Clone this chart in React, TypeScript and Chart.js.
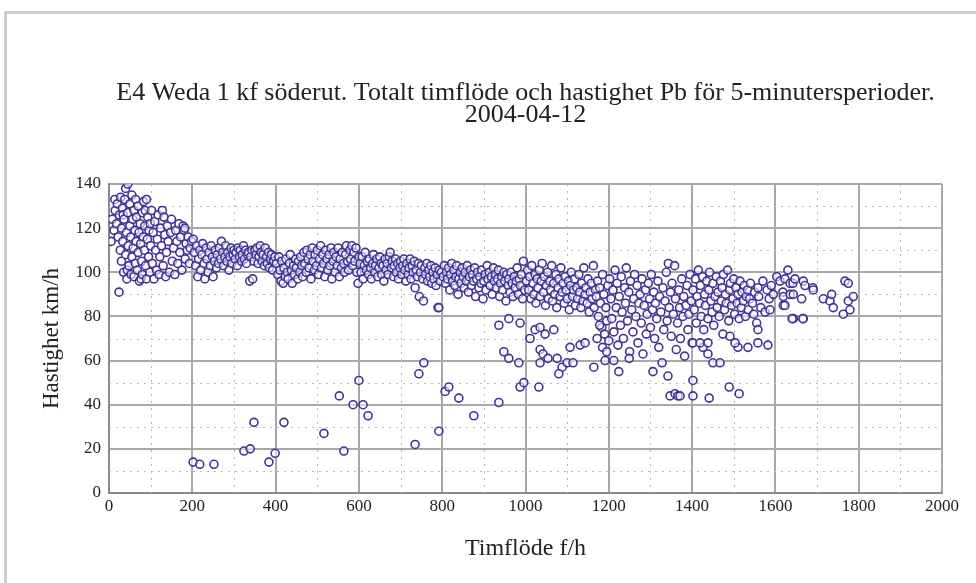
import React, { useEffect, useRef } from "react";
import { Chart, registerables } from "chart.js";

Chart.register(...registerables);

const titleLines = [
  "E4 Weda 1 kf söderut. Totalt timflöde och hastighet Pb för 5-minutersperioder.",
  "2004-04-12",
];
const xAxisTitle = "Timflöde f/h";
const yAxisTitle = "Hastighet km/h";

const xMin = 0;
const xMax = 2000;
const xStep = 200;
const yMin = 0;
const yMax = 140;
const yStep = 20;

// Flow (f/h), speed (km/h) pairs, grouped by flow range
const flow0to100: [number, number][] = [
  [5,114],[8,124],[12,119],[14,133],[15,128],[18,122],[20,131],[22,116],[24,91],[25,126],[27,110],[28,134],
  [30,120],[30,105],[32,129],[33,114],[34,126],[35,100],[36,124],[38,133],[40,138],[40,108],[42,118],[43,97],
  [44,101],[45,140],[45,127],[46,112],[48,103],[50,131],[50,121],[52,116],[53,99],[55,135],[55,107],[57,124],
  [58,111],[60,128],[60,98],[62,119],[63,104],[64,133],[65,114],[66,125],[68,101],[70,130],[70,109],[72,118],
  [73,96],[75,122],[76,113],[77,97],[78,105],[80,127],[80,99],[82,116],[83,132],[85,110],[86,121],[87,128],
  [88,103],[90,133],[90,97],[92,115],[93,125],[95,107],[96,119],[98,100],[99,122],[100,112],
];
const flow100to200: [number, number][] = [
  [102,128],[104,104],[106,118],[108,97],[110,123],[112,110],[114,101],[116,115],[118,126],[120,99],[122,107],
  [124,120],[126,112],[128,128],[130,103],[132,125],[134,117],[136,98],[138,109],[140,121],[142,114],[145,100],
  [148,118],[150,124],[152,105],[155,111],[158,99],[160,119],[163,114],[165,104],[168,122],[170,109],[172,116],
  [175,101],[178,121],[180,119],[182,120],[183,106],[185,113],[188,110],[190,116],[193,104],[195,111],[198,114],
];
const flow200to400: [number, number][] = [
  [202,115],[205,109],[208,103],[210,112],[213,98],[215,106],[218,110],[220,101],[223,108],[225,113],[228,104],
  [230,97],[233,111],[235,106],[238,100],[240,109],[243,103],[245,112],[248,107],[250,98],[253,105],[255,110],
  [258,102],[260,108],[263,104],[265,111],[268,106],[270,114],[273,109],[275,103],[278,107],[280,112],[283,105],
  [285,109],[288,101],[290,107],[293,111],[295,104],[298,108],[300,110],[303,106],[305,109],[308,103],[310,111],
  [313,107],[315,110],[318,105],[320,108],[323,112],[325,106],[328,110],[330,104],[333,108],[335,109],[338,96],
  [340,107],[343,110],[345,97],[348,105],[350,110],[353,108],[355,111],[358,104],[360,107],[363,112],[365,109],
  [368,105],[370,108],[373,103],[375,111],[378,107],[380,104],[383,109],[385,102],[388,106],[390,108],[393,101],
  [395,105],[398,107],
];
const flow400to600: [number, number][] = [
  [402,104],[405,99],[408,107],[410,101],[413,96],[415,105],[418,95],[420,102],[423,98],[425,106],[428,100],
  [430,97],[433,104],[435,108],[438,101],[440,95],[443,103],[445,99],[448,106],[450,102],[453,97],[455,105],
  [458,100],[460,107],[463,103],[465,98],[468,109],[470,104],[473,100],[475,110],[478,106],[480,102],[483,108],
  [485,97],[488,111],[490,105],[493,101],[495,108],[498,103],[500,110],[503,99],[505,106],[508,112],[510,102],
  [513,108],[515,104],[518,98],[520,110],[523,106],[525,101],[528,108],[530,103],[533,111],[535,97],[538,105],
  [540,109],[543,100],[545,107],[548,103],[550,111],[553,98],[555,106],[558,102],[560,109],[563,104],[565,100],
  [568,108],[570,112],[573,105],[575,101],[578,110],[580,106],[583,112],[585,103],[588,109],[590,105],[593,111],
  [595,100],[598,95],[600,107],
];
const flow600to800: [number, number][] = [
  [603,104],[605,100],[608,107],[610,97],[613,103],[615,109],[618,101],[620,105],[623,99],[625,106],[628,102],
  [630,97],[633,104],[635,108],[638,100],[640,103],[643,106],[645,98],[648,102],[650,107],[653,104],[655,99],
  [658,103],[660,96],[663,106],[665,101],[668,104],[670,99],[673,107],[675,109],[678,102],[680,105],[683,98],
  [685,103],[688,106],[690,100],[693,104],[695,97],[698,102],[700,105],[703,99],[705,103],[708,106],[710,101],
  [713,96],[715,104],[718,99],[720,102],[723,106],[725,97],[728,103],[730,100],[733,105],[735,93],[738,101],
  [740,98],[743,104],[745,89],[748,100],[750,103],[753,97],[755,87],[758,102],[760,99],[763,104],[765,96],
  [768,101],[770,98],[773,103],[775,95],[778,100],[780,97],[783,102],[785,94],[788,99],[790,84],[793,101],
  [795,96],[798,100],
];
const flow800to1000: [number, number][] = [
  [802,98],[805,103],[808,95],[810,100],[813,97],[815,102],[818,92],[820,99],[823,104],[825,96],[828,101],
  [830,94],[833,98],[835,103],[838,90],[840,97],[843,100],[845,95],[848,102],[850,98],[853,93],[855,100],
  [858,96],[860,103],[863,91],[865,98],[868,101],[870,94],[873,99],[875,96],[878,102],[880,89],[883,97],
  [885,100],[888,93],[890,98],[893,95],[895,101],[898,88],[900,96],[903,99],[905,92],[908,103],[910,97],
  [913,100],[915,94],[918,98],[920,90],[923,102],[925,96],[928,99],[930,93],[933,97],[935,101],[938,89],
  [940,95],[943,98],[945,92],[948,100],[950,96],[953,87],[955,99],[958,94],[960,97],[963,91],[965,100],
  [968,95],[970,89],[973,98],[975,93],[978,96],[980,102],[983,90],[985,97],[988,94],[990,99],[993,88],
  [995,105],[998,92],
];
const flow1000to1200: [number, number][] = [
  [1002,96],[1005,101],[1008,92],[1010,98],[1013,88],[1015,103],[1018,95],[1020,90],[1023,99],[1025,86],
  [1028,97],[1030,93],[1033,101],[1035,89],[1038,96],[1040,104],[1043,91],[1045,98],[1048,85],[1050,94],
  [1053,100],[1055,88],[1058,96],[1060,92],[1063,103],[1065,87],[1068,95],[1070,90],[1073,99],[1075,84],
  [1078,93],[1080,97],[1083,89],[1085,102],[1088,91],[1090,95],[1093,86],[1095,98],[1098,92],[1100,88],
  [1103,96],[1105,83],[1108,94],[1110,100],[1113,89],[1115,92],[1118,97],[1120,85],[1123,93],[1125,88],
  [1128,99],[1130,91],[1133,84],[1135,95],[1138,87],[1140,102],[1143,90],[1145,93],[1148,86],[1150,97],
  [1153,82],[1155,91],[1158,95],[1160,88],[1163,103],[1165,84],[1168,92],[1170,89],[1173,96],[1175,80],
  [1178,93],[1180,86],[1183,75],[1185,99],[1188,90],[1190,72],[1193,84],[1195,78],[1198,94],[1200,69],
];
const flow1200to1400: [number, number][] = [
  [1202,97],[1205,88],[1207,79],[1210,92],[1212,73],[1215,101],[1218,84],[1220,95],[1222,67],[1225,89],
  [1228,76],[1230,98],[1232,82],[1235,70],[1238,93],[1240,86],[1242,102],[1245,78],[1248,91],[1250,64],
  [1252,96],[1255,83],[1258,73],[1260,88],[1262,99],[1265,80],[1268,94],[1270,68],[1272,86],[1275,90],
  [1278,77],[1280,97],[1285,85],[1288,92],[1290,72],[1292,81],[1295,95],[1298,88],[1300,75],[1302,99],
  [1305,83],[1308,91],[1310,70],[1312,86],[1315,79],[1318,96],[1320,66],[1322,89],[1325,82],[1330,93],
  [1332,74],[1335,87],[1338,100],[1340,78],[1343,104],[1345,84],[1348,91],[1350,71],[1352,95],[1355,81],
  [1358,103],[1360,88],[1362,65],[1365,77],[1368,92],[1370,84],[1372,70],[1375,97],[1378,80],[1380,89],
  [1382,62],[1385,85],[1388,94],[1390,74],[1392,81],[1395,99],[1398,87],[1400,68],
];
const flow1400to1600: [number, number][] = [
  [1402,92],[1405,83],[1408,97],[1410,77],[1412,89],[1415,101],[1418,86],[1420,94],[1422,80],[1425,98],
  [1428,74],[1430,90],[1432,85],[1435,96],[1438,79],[1440,92],[1442,100],[1445,87],[1448,82],[1450,95],
  [1452,76],[1455,89],[1458,98],[1460,84],[1462,91],[1465,80],[1468,96],[1470,87],[1472,93],[1475,99],
  [1478,83],[1480,90],[1482,86],[1485,101],[1488,78],[1490,92],[1492,95],[1495,85],[1498,88],[1500,97],
  [1502,81],[1505,93],[1508,86],[1510,90],[1513,79],[1515,96],[1518,84],[1520,91],[1523,87],[1525,94],
  [1528,80],[1530,89],[1533,92],[1535,83],[1538,88],[1540,95],[1545,86],[1548,81],[1550,91],[1555,77],
  [1558,93],[1560,89],[1565,84],[1570,96],[1575,82],[1580,92],[1585,88],[1590,94],[1595,90],
];
const flow1600to1800: [number, number][] = [
  [1603,98],[1611,96],[1618,91],[1619,89],[1619,85],[1623,97],[1623,85],[1630,101],[1635,95],[1635,90],
  [1642,95],[1643,90],[1643,79],[1647,97],[1663,88],[1667,96],[1667,79],[1671,94],[1690,93],[1691,92],
  [1715,88],[1731,87],[1735,90],[1739,84],[1763,81],[1767,96],[1775,95],[1775,87],[1779,83],[1787,89],
];
// Scattered low-speed periods
const lowSpeed: [number, number][] = [
  [202,14],[218,13],[252,13],[324,19],[339,20],[348,32],[384,14],[399,18],[420,32],[516,27],[553,44],
  [564,19],[600,51],[586,40],[610,40],[622,35],[744,54],[756,59],[735,22],[792,28],[807,46],[816,48],
  [840,43],[876,35],[936,41],[792,84],[936,76],[948,64],[960,61],[984,59],[960,79],[987,77],[987,48],
  [996,50],[1032,48],[1011,70],[1023,74],[1035,75],[1047,72],[1068,74],[1035,65],[1042,63],[1035,59],
  [1054,61],[1076,61],[1088,57],[1080,54],[1100,59],[1114,59],[1107,66],[1131,67],[1143,68],[1164,57],
  [1172,70],[1178,76],[1185,66],[1191,60],[1195,64],[1212,60],[1224,55],[1249,61],[1282,63],[1306,55],
  [1328,59],[1342,53],[1347,44],[1359,45],[1366,44],[1371,44],[1402,51],[1402,44],[1441,43],[1489,48],
  [1513,45],[1450,59],[1467,59],[1438,63],[1426,66],[1402,68],[1419,68],[1438,68],[1510,66],[1534,66],
  [1558,68],[1582,67],[1474,72],[1491,71],[1503,68],[1558,74],[1587,83],[1640,79],[1666,79],
];

const allPairs = [
  ...flow0to100, ...flow100to200, ...flow200to400, ...flow400to600, ...flow600to800,
  ...flow800to1000, ...flow1000to1200, ...flow1200to1400, ...flow1400to1600, ...flow1600to1800, ...lowSpeed,
];

const SERIF = "'Liberation Serif', 'DejaVu Serif', serif";

const minorGrid = {
  id: "minorGrid",
  beforeDatasetsDraw(chart: any) {
    const { ctx, chartArea, scales } = chart;
    const xs = scales.x;
    const ys = scales.y;
    ctx.save();
    ctx.strokeStyle = "#b8b8b8";
    ctx.lineWidth = 1;
    ctx.setLineDash([2, 5]);
    for (let v = yMin + yStep / 2; v < yMax; v += yStep) {
      const py = Math.round(ys.getPixelForValue(v)) + 0.5;
      ctx.beginPath();
      ctx.moveTo(chartArea.left, py);
      ctx.lineTo(chartArea.right, py);
      ctx.stroke();
    }
    for (let v = xMin + xStep / 2; v < xMax; v += xStep) {
      const px = Math.round(xs.getPixelForValue(v)) + 0.5;
      ctx.beginPath();
      ctx.moveTo(px, chartArea.top);
      ctx.lineTo(px, chartArea.bottom);
      ctx.stroke();
    }
    ctx.restore();
  },
};

// Title centred over the plot area (as in the original)
const plotTitle = {
  id: "plotTitle",
  afterDraw(chart: any) {
    const { ctx, chartArea } = chart;
    const cx = (chartArea.left + chartArea.right) / 2;
    ctx.save();
    ctx.fillStyle = "#222";
    ctx.font = `26px ${SERIF}`;
    ctx.textAlign = "center";
    ctx.textBaseline = "alphabetic";
    titleLines.forEach((line, i) => {
      ctx.fillText(line, cx, chartArea.top - 84 + i * 22);
    });
    ctx.restore();
  },
};

export default function App() {
  const canvasRef = useRef<HTMLCanvasElement | null>(null);

  useEffect(() => {
    document.body.style.margin = "0";
    const canvas = canvasRef.current;
    if (!canvas) return;
    const chart = new Chart(canvas, {
      type: "scatter",
      data: {
        datasets: [
          {
            label: "Pb",
            data: allPairs.map(([x, y]) => ({ x, y })),
            pointRadius: 4,
            pointHoverRadius: 4,
            pointBorderWidth: 1.6,
            pointBorderColor: "#3f3399",
            pointBackgroundColor: "rgba(255,255,255,0.55)",
          },
        ],
      },
      options: {
        animation: false,
        responsive: false,
        maintainAspectRatio: false,
        layout: { padding: { left: 38, right: 34, top: 184, bottom: 20 } },
        plugins: {
          legend: { display: false },
          tooltip: { enabled: false },
          title: { display: false },
        },
        scales: {
          x: {
            type: "linear",
            min: xMin,
            max: xMax,
            afterFit: (s: any) => { s.height = 70; },
            ticks: {
              stepSize: xStep,
              color: "#222",
              padding: 3,
              maxRotation: 0,
              font: { family: SERIF, size: 17 },
              callback: (v: any) => String(v),
            },
            grid: { color: "#a8a8a8", lineWidth: 2, drawTicks: false },
            border: { color: "#8a8a8a", width: 2 },
            title: {
              display: true,
              text: xAxisTitle,
              color: "#222",
              font: { family: SERIF, size: 24, lineHeight: 1.2 },
              padding: { top: 0, bottom: 0 },
            },
          },
          y: {
            type: "linear",
            min: yMin,
            max: yMax,
            afterFit: (s: any) => { s.width = 71; },
            ticks: {
              stepSize: yStep,
              color: "#222",
              padding: 8,
              font: { family: SERIF, size: 17 },
              callback: (v: any) => String(v),
            },
            grid: { color: "#a8a8a8", lineWidth: 2, drawTicks: false },
            border: { color: "#8a8a8a", width: 2 },
            title: {
              display: true,
              text: yAxisTitle,
              color: "#222",
              font: { family: SERIF, size: 23, lineHeight: 1.2 },
              padding: { top: 0, bottom: 0 },
            },
          },
        },
      },
      plugins: [minorGrid, plotTitle],
    });
    return () => chart.destroy();
  }, []);

  return (
    <div style={{ position: "fixed", left: 0, top: 0, width: 976, height: 583, overflow: "hidden", background: "#fff" }}>
      <div
        style={{
          position: "absolute",
          left: 4,
          top: 11,
          width: 1100,
          height: 700,
          borderTop: "3px solid #cdcdcd",
          borderLeft: "3px solid #cdcdcd",
        }}
      />
      <canvas ref={canvasRef} width={976} height={583} style={{ position: "absolute", left: 0, top: 0 }} />
    </div>
  );
}
